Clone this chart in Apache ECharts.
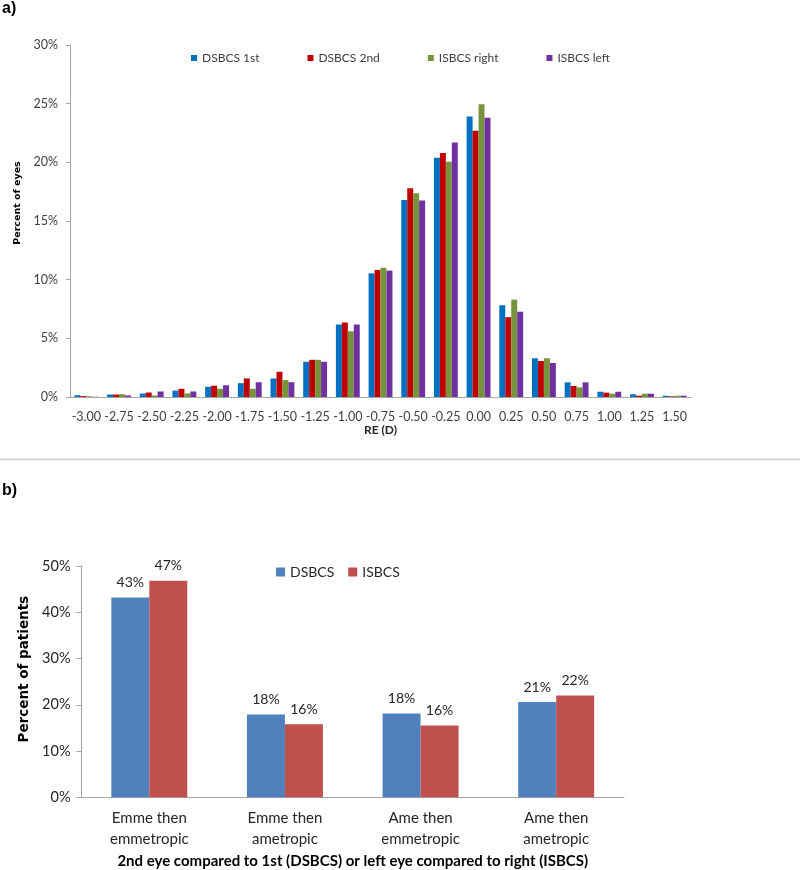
<!DOCTYPE html>
<html>
<head>
<meta charset="utf-8">
<script src="https://cdn.jsdelivr.net/npm/echarts@6/dist/echarts.min.js"></script>
<style>
html,body{margin:0;padding:0;background:#fff;}
#chart{width:800px;height:870px;}
</style>
</head>
<body>
<div id="chart"></div>
<script>
// ---- Panel a) data ----
const reCategories = ['-3.00','-2.75','-2.50','-2.25','-2.00','-1.75','-1.50','-1.25','-1.00','-0.75','-0.50','-0.25','0.00','0.25','0.50','0.75','1.00','1.25','1.50'];
const dsbcs1st   = [0.15,0.21,0.30,0.55,0.87,1.18,1.58,3.00,6.18,10.54,16.80,20.40,23.90,7.82,3.30,1.25,0.45,0.23,0.11];
const dsbcs2nd   = [0.08,0.21,0.38,0.70,0.96,1.58,2.15,3.17,6.35,10.83,17.79,20.80,22.70,6.80,3.07,0.94,0.37,0.11,0.06];
const isbcsRight = [0.06,0.24,0.13,0.30,0.70,0.70,1.44,3.17,5.60,11.02,17.36,20.06,24.95,8.30,3.30,0.82,0.28,0.28,0.11];
const isbcsLeft  = [0.02,0.13,0.47,0.47,1.00,1.26,1.26,3.00,6.18,10.77,16.74,21.70,23.80,7.27,2.90,1.25,0.45,0.28,0.11];
const seriesNamesA = ['DSBCS 1st','DSBCS 2nd','ISBCS right','ISBCS left'];

// ---- Panel b) data ----
const outcomeCategories = ['Emme then\nemmetropic','Emme then\nametropic','Ame then\nemmetropic','Ame then\nametropic'];
const dsbcsPatients = [43.2,17.9,18.1,20.6];
const isbcsPatients = [46.8,15.8,15.5,22.0];
const seriesNamesB = ['DSBCS','ISBCS'];

const colorsA = ['#0070C0','#C00000','#77933C','#7030A0'];
const colorsB = ['#4F81BD','#C0504D'];
const calibri = 'Lato';
const axisGrey = '#A6A6A6';

const chart = echarts.init(document.getElementById('chart'), null, {renderer:'canvas'});

const valsA = [dsbcs1st, dsbcs2nd, isbcsRight, isbcsLeft];
const seriesA = valsA.map((d,i)=>({
  name: seriesNamesA[i], type:'bar', xAxisIndex:0, yAxisIndex:0,
  data: d, itemStyle:{color:colorsA[i]},
  barGap:'0%', barCategoryGap:'27%'
}));
const valsB = [dsbcsPatients, isbcsPatients];
const seriesB = valsB.map((d,i)=>({
  name: seriesNamesB[i], type:'bar', xAxisIndex:1, yAxisIndex:1,
  data: d, itemStyle:{color:colorsB[i]},
  barGap:'0%', barCategoryGap:'44%',
  label:{show:true, position:'top', distance:8, fontFamily:calibri, fontSize:14, color:'#262626',
    formatter: p => Math.round(p.value) + '%'}
}));

chart.setOption({
  animation:false,
  backgroundColor:'#ffffff',
  textStyle:{fontFamily:calibri},
  graphic:[
    {type:'text', left:2, top:1, style:{text:'a)', font:'bold 16px "Liberation Sans"', fill:'#000'}},
    {type:'text', left:2, top:483, style:{text:'b)', font:'bold 16px "Liberation Sans"', fill:'#000'}},
    {type:'line', shape:{x1:0,y1:459.5,x2:800,y2:459.5}, style:{stroke:'#C8C8C8', lineWidth:1.5}}
  ],
  legend:[
    {data:seriesNamesA, left:191, top:52, padding:0, icon:'rect', itemWidth:6, itemHeight:6, itemGap:48,
     textStyle:{fontFamily:calibri, fontSize:12, color:'#404040'}},
    {data:seriesNamesB, left:276, top:565, padding:0, icon:'rect', itemWidth:9, itemHeight:9, itemGap:14,
     textStyle:{fontFamily:calibri, fontSize:14, color:'#262626'}}
  ],
  grid:[
    {left:70, right:109, top:45, bottom:473},
    {left:81.5, right:176, top:566, bottom:72.7}
  ],
  xAxis:[
    {type:'category', gridIndex:0, data:reCategories,
     axisLine:{lineStyle:{color:axisGrey}}, axisTick:{length:4, lineStyle:{color:axisGrey}},
     axisLabel:{fontFamily:calibri, fontSize:12.5, color:'#404040', margin:13, interval:0},
     name:'RE (D)', nameLocation:'middle', nameGap:22,
     nameTextStyle:{fontFamily:calibri, fontWeight:'bold', fontSize:12, color:'#262626'}},
    {type:'category', gridIndex:1, data:outcomeCategories,
     axisLine:{lineStyle:{color:axisGrey}}, axisTick:{length:5, lineStyle:{color:axisGrey}},
     axisLabel:{fontFamily:calibri, fontSize:15, color:'#262626', margin:10, lineHeight:21, interval:0},
     name:'2nd eye compared to 1st (DSBCS) or left eye compared to right (ISBCS)', nameLocation:'middle', nameGap:56,
     nameTextStyle:{fontFamily:calibri, fontWeight:'bold', fontSize:15, color:'#000'}}
  ],
  yAxis:[
    {type:'value', gridIndex:0, min:0, max:30, interval:5,
     axisLine:{show:true, lineStyle:{color:axisGrey}}, axisTick:{show:true, length:4, lineStyle:{color:axisGrey}},
     splitLine:{show:false},
     axisLabel:{fontFamily:calibri, fontSize:12.5, color:'#404040', margin:12, formatter:'{value}%'},
     name:'Percent of eyes', nameLocation:'middle', nameGap:46,
     nameTextStyle:{fontFamily:'DejaVu Sans', fontWeight:'bold', fontSize:9.5, color:'#000', padding:[0,0,0,36]}},
    {type:'value', gridIndex:1, min:0, max:50, interval:10,
     axisLine:{show:true, lineStyle:{color:axisGrey}}, axisTick:{show:true, length:5, lineStyle:{color:axisGrey}},
     splitLine:{show:false},
     axisLabel:{fontFamily:calibri, fontSize:14.5, color:'#262626', margin:11, formatter:'{value}%'},
     name:'Percent of patients', nameLocation:'middle', nameGap:48,
     nameTextStyle:{fontFamily:'DejaVu Sans', fontWeight:'bold', fontSize:13.5, color:'#000', padding:[0,0,0,25]}}
  ],
  series: seriesA.concat(seriesB)
});
</script>
</body>
</html>
